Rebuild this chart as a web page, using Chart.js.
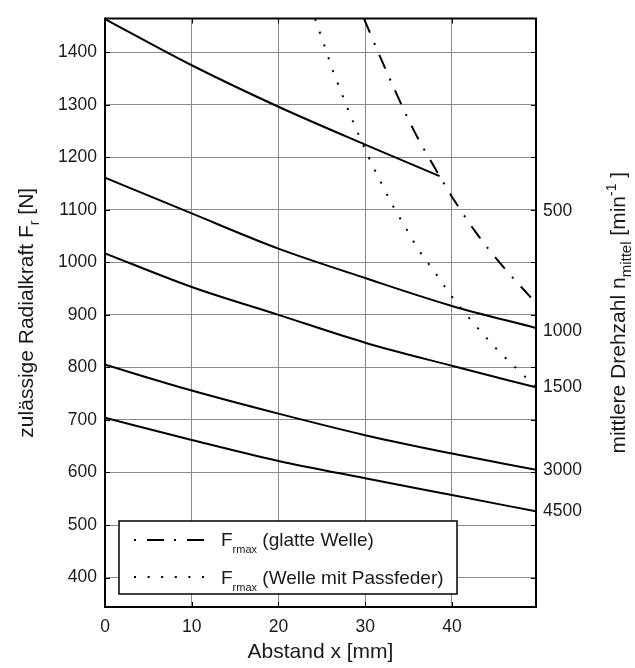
<!DOCTYPE html>
<html>
<head>
<meta charset="utf-8">
<script src="https://cdn.jsdelivr.net/npm/chart.js@4.4.0/dist/chart.umd.min.js"></script>
<style>
  body { margin: 0; background: #fff; }
  #wrap { width: 635px; height: 668px; }
</style>
</head>
<body>
<div id="wrap"><canvas id="Chart"></canvas></div>
<script>
// axis ranges and ticks
const xMin = 0, xMax = 49.7;
const yMin = 344, yMax = 1464;
const xTicks = [0, 10, 20, 30, 40];
const yTicks = [400, 500, 600, 700, 800, 900, 1000, 1100, 1200, 1300, 1400];

// zulässige Radialkraft je Drehzahl (durchgezogen)
const xCurve = [0, 10, 20, 30, 40, 49.7];
const x500 = [0, 10, 20, 30, 38.58];
const f500 = [1463, 1375, 1296, 1224, 1164];
const f1000 = [1161, 1093, 1026, 970, 917, 875];
const f1500 = [1017, 953, 900, 847, 803, 762];
const f3000 = [805, 756, 712, 671, 636, 605];
const f4500 = [704, 662, 622, 589, 557, 526];

// Frmax glatte Welle (strich-punkt)
const xGlatt = [29.88, 31.73, 35.58, 37.81, 38.58, 40.19, 42.81, 45.58, 48.78, 49.7];
const fGlatt = [1463.5, 1391, 1252, 1186, 1164, 1120, 1056, 998, 939, 923];

// Frmax Welle mit Passfeder (punktiert)
const xPass = [24.23, 25.27, 26.27, 27.38, 28.54, 30.38, 31.73, 33.15, 34.70, 36.23, 38.08, 39.81, 41.74, 43.73, 44.81, 47.0, 49.24, 49.7];
const fPass = [1463, 1414, 1365, 1318, 1270, 1201, 1155, 1109, 1065, 1022, 980, 939, 899, 861, 841, 805, 770, 763];

// Drehzahl-Beschriftung rechts
const rpmLabels = ['500', '1000', '1500', '3000', '4500'];
const rpmLabelAt = [1098, 869, 762, 605, 526];

const FONT = '"Liberation Sans", Arial, sans-serif';
const TXT = '#1a1a1a';
const DASHDOT = [15, 11, 2, 11];
const DOTS = [2, 11.5];

function series(xs, ys, dash) {
    return {
        data: xs.map((x, i) => ({ x: x, y: ys[i] })),
        borderColor: '#000',
        borderWidth: 2,
        borderDash: dash,
        borderCapStyle: 'butt',
        pointRadius: 0,
        fill: false,
        cubicInterpolationMode: 'monotone'
    };
}

function richWidth(ctx, parts) {
    let w = 0;
    parts.forEach(p => { ctx.font = p.s + 'px ' + FONT; w += ctx.measureText(p.t).width; });
    return w;
}

function drawRich(ctx, parts, x, y) {
    let cx = x;
    parts.forEach(p => {
        ctx.font = p.s + 'px ' + FONT;
        ctx.fillText(p.t, cx, y + (p.dy || 0));
        cx += ctx.measureText(p.t).width;
    });
}

function seg(ctx, x1, y1, x2, y2) {
    ctx.beginPath();
    ctx.moveTo(x1, y1);
    ctx.lineTo(x2, y2);
    ctx.stroke();
}

const decor = {
    id: 'decor',
    afterDatasetsDraw(chart) {
        const { ctx, chartArea: a, scales } = chart;
        ctx.save();
        ctx.strokeStyle = '#000';
        ctx.lineWidth = 1;
        yTicks.forEach(v => {
            const py = Math.round(scales.y.getPixelForValue(v)) + 0.5;
            seg(ctx, a.left, py, a.left + 5, py);
            seg(ctx, a.right - 5, py, a.right, py);
        });
        xTicks.forEach(v => {
            const px = Math.round(scales.x.getPixelForValue(v)) + 0.5;
            seg(ctx, px, a.bottom, px, a.bottom - 5);
            seg(ctx, px, a.top, px, a.top + 5);
        });
        ctx.lineWidth = 2;
        ctx.strokeRect(a.left, a.top, a.right - a.left, a.bottom - a.top);

        // legend box
        const lx = a.left + 14, ly = a.bottom - 86, lw = 338, lh = 73;
        ctx.fillStyle = '#fff';
        ctx.fillRect(lx, ly, lw, lh);
        ctx.lineWidth = 1.5;
        ctx.strokeRect(lx, ly, lw, lh);

        ctx.lineWidth = 2;
        ctx.lineCap = 'butt';
        ctx.setLineDash([2, 11, 17, 10]);
        seg(ctx, lx + 15, ly + 19, lx + 85, ly + 19);
        ctx.setLineDash([2, 11.6]);
        seg(ctx, lx + 15, ly + 56, lx + 86, ly + 56);
        ctx.setLineDash([]);

        ctx.fillStyle = TXT;
        ctx.textBaseline = 'alphabetic';
        drawRich(ctx, [{ t: 'F', s: 19 }, { t: 'rmax', s: 11, dy: 7 }, { t: ' (glatte Welle)', s: 19 }], lx + 102, ly + 25);
        drawRich(ctx, [{ t: 'F', s: 19 }, { t: 'rmax', s: 11, dy: 7 }, { t: ' (Welle mit Passfeder)', s: 19 }], lx + 102, ly + 63);
        ctx.restore();
    },
    afterDraw(chart) {
        const { ctx, chartArea: a } = chart;
        const cy = (a.top + a.bottom) / 2;
        ctx.save();
        ctx.fillStyle = TXT;
        ctx.textBaseline = 'alphabetic';

        const left = [{ t: 'zulässige Radialkraft F', s: 21 }, { t: 'r', s: 14, dy: 6 }, { t: ' [N]', s: 21 }];
        ctx.save();
        ctx.translate(33, cy);
        ctx.rotate(-Math.PI / 2);
        drawRich(ctx, left, -richWidth(ctx, left) / 2, 0);
        ctx.restore();

        const right = [{ t: 'mittlere Drehzahl n', s: 21 }, { t: 'mittel', s: 15, dy: 6 }, { t: ' [min', s: 21 },
                       { t: '-1', s: 14, dy: -9 }, { t: ' ]', s: 21 }];
        ctx.save();
        ctx.translate(625, cy);
        ctx.rotate(-Math.PI / 2);
        drawRich(ctx, right, -richWidth(ctx, right) / 2, 0);
        ctx.restore();

        const bottom = [{ t: 'Abstand x [mm]', s: 21 }];
        drawRich(ctx, bottom, (a.left + a.right) / 2 - richWidth(ctx, bottom) / 2, 658);
        ctx.restore();
    }
};

const ctx = document.getElementById('Chart').getContext('2d');
const myChart = new Chart(ctx, {
    type: 'line',
    data: {
        datasets: [
            series(x500, f500, []),
            series(xCurve, f1000, []),
            series(xCurve, f1500, []),
            series(xCurve, f3000, []),
            series(xCurve, f4500, []),
            series(xGlatt, fGlatt, DASHDOT),
            series(xPass, fPass, DOTS)
        ]
    },
    options: {
        responsive: true,
        maintainAspectRatio: false,
        animation: false,
        layout: { padding: { top: 13, left: 0, right: 0, bottom: 0 } },
        plugins: { legend: { display: false }, tooltip: { enabled: false } },
        scales: {
            x: {
                type: 'linear',
                min: xMin,
                max: xMax,
                afterBuildTicks: s => { s.ticks = xTicks.map(v => ({ value: v })); },
                afterFit: s => { s.height = 61; },
                grid: { color: '#8a8a8a', lineWidth: 1, drawTicks: false },
                border: { display: false },
                ticks: { color: TXT, padding: 10, maxRotation: 0, autoSkip: false,
                         font: { family: FONT, size: 17.5 }, callback: v => String(v) }
            },
            y: {
                type: 'linear',
                min: yMin,
                max: yMax,
                afterBuildTicks: s => { s.ticks = yTicks.map(v => ({ value: v })); },
                afterFit: s => { s.width = 105; },
                grid: { color: '#8a8a8a', lineWidth: 1, drawTicks: false },
                border: { display: false },
                ticks: { color: TXT, padding: 8, autoSkip: false,
                         font: { family: FONT, size: 17.5 }, callback: v => String(v) }
            },
            y2: {
                type: 'linear',
                position: 'right',
                min: yMin,
                max: yMax,
                afterBuildTicks: s => { s.ticks = rpmLabelAt.map(v => ({ value: v })); },
                afterFit: s => { s.width = 99; },
                grid: { display: false, drawTicks: false },
                border: { display: false },
                ticks: {
                    color: TXT, padding: 7, autoSkip: false, font: { family: FONT, size: 17.5 },
                    callback: v => rpmLabels[rpmLabelAt.indexOf(v)]
                }
            }
        }
    },
    plugins: [decor]
});
</script>
</body>
</html>
